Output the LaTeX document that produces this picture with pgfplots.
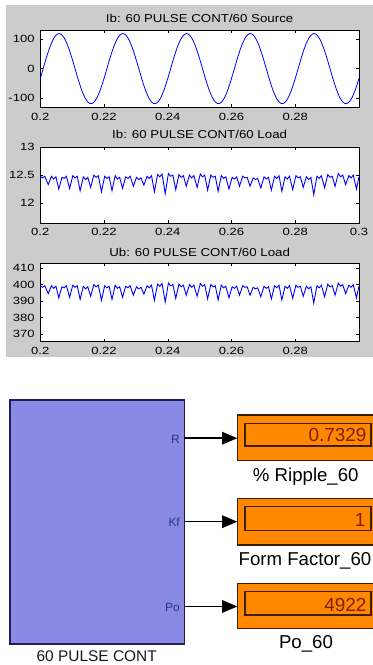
\documentclass[border=0pt]{standalone}
\usepackage{pgfplots}
\pgfplotsset{compat=1.18}
\usepackage{pgfplotstable}
\usepackage{fontspec}
\setmainfont{Liberation Sans}
\newfontfamily\tickfont{Liberation Sans}[FakeStretch=1.25]
\newfontfamily\titlefont{Liberation Sans}[FakeStretch=1.16]
\definecolor{figgray}{RGB}{204,204,204}
\definecolor{blockblue}{RGB}{138,138,230}
\definecolor{navy}{RGB}{30,30,90}
\definecolor{portblue}{RGB}{40,50,130}
\definecolor{dorange}{RGB}{255,136,0}
\definecolor{dbrown}{RGB}{60,30,0}
\definecolor{valred}{RGB}{130,30,0}

\pgfplotstableread{
t y
0.2000 -33
0.2009 0
0.2019 36.5
0.2029 69.4
0.2039 95.5
0.2049 112.2
0.2059 118
0.2069 112.2
0.2079 95.5
0.2089 69.4
0.2099 36.5
0.2109 0
0.2119 -36.5
0.2129 -69.4
0.2139 -95.5
0.2149 -112.2
0.2159 -118
0.2169 -112.2
0.2179 -95.5
0.2189 -69.4
0.2199 -36.5
0.2209 0
0.2219 36.5
0.2229 69.4
0.2239 95.5
0.2249 112.2
0.2259 118
0.2269 112.2
0.2279 95.5
0.2289 69.4
0.2299 36.5
0.2309 0
0.2319 -36.5
0.2329 -69.4
0.2339 -95.5
0.2349 -112.2
0.2359 -118
0.2369 -112.2
0.2379 -95.5
0.2389 -69.4
0.2399 -36.5
0.2409 0
0.2419 36.5
0.2429 69.4
0.2439 95.5
0.2449 112.2
0.2459 118
0.2469 112.2
0.2479 95.5
0.2489 69.4
0.2499 36.5
0.2509 0
0.2519 -36.5
0.2529 -69.4
0.2539 -95.5
0.2549 -112.2
0.2559 -118
0.2569 -112.2
0.2579 -95.5
0.2589 -69.4
0.2599 -36.5
0.2609 0
0.2619 36.5
0.2629 69.4
0.2639 95.5
0.2649 112.2
0.2659 118
0.2669 112.2
0.2679 95.5
0.2689 69.4
0.2699 36.5
0.2709 0
0.2719 -36.5
0.2729 -69.4
0.2739 -95.5
0.2749 -112.2
0.2759 -118
0.2769 -112.2
0.2779 -95.5
0.2789 -69.4
0.2799 -36.5
0.2809 0
0.2819 36.5
0.2829 69.4
0.2839 95.5
0.2849 112.2
0.2859 118
0.2869 112.2
0.2879 95.5
0.2889 69.4
0.2899 36.5
0.2909 0
0.2919 -36.5
0.2929 -69.4
0.2939 -95.5
0.2949 -112.2
0.2959 -118
0.2969 -112.2
0.2979 -95.5
0.2989 -69.4
0.2999 -36.5
0.3000 -33
}\sinetab

\pgfplotstableread{
t I U
0.2000 12.48 399.36
0.2007 12.45 398.40
0.2014 12.48 399.36
0.2025 12.33 394.56
0.2035 12.48 399.36
0.2042 12.43 397.76
0.2049 12.47 399.04
0.2058 12.25 392.00
0.2068 12.46 398.72
0.2075 12.44 398.08
0.2082 12.48 399.36
0.2092 12.26 392.32
0.2102 12.49 399.68
0.2109 12.45 398.40
0.2116 12.48 399.36
0.2125 12.22 391.04
0.2135 12.47 399.04
0.2142 12.42 397.44
0.2149 12.46 398.72
0.2158 12.28 392.96
0.2168 12.50 400.00
0.2175 12.46 398.72
0.2182 12.49 399.68
0.2192 12.20 390.40
0.2202 12.48 399.36
0.2209 12.44 398.08
0.2216 12.47 399.04
0.2225 12.22 391.04
0.2235 12.49 399.68
0.2242 12.43 397.76
0.2249 12.46 398.72
0.2258 12.26 392.32
0.2268 12.47 399.04
0.2275 12.44 398.08
0.2282 12.48 399.36
0.2292 12.30 393.60
0.2302 12.46 398.72
0.2309 12.42 397.44
0.2316 12.45 398.40
0.2325 12.32 394.24
0.2335 12.48 399.36
0.2342 12.44 398.08
0.2349 12.49 399.68
0.2358 12.20 390.40
0.2368 12.51 400.32
0.2375 12.47 399.04
0.2382 12.52 400.64
0.2392 12.17 389.44
0.2402 12.53 400.96
0.2409 12.48 399.36
0.2416 12.50 400.00
0.2425 12.24 391.68
0.2435 12.51 400.32
0.2442 12.46 398.72
0.2449 12.49 399.68
0.2458 12.30 393.60
0.2468 12.50 400.00
0.2475 12.45 398.40
0.2482 12.49 399.68
0.2492 12.28 392.96
0.2502 12.52 400.64
0.2509 12.47 399.04
0.2516 12.50 400.00
0.2525 12.23 391.36
0.2535 12.50 400.00
0.2542 12.46 398.72
0.2549 12.48 399.36
0.2558 12.21 390.72
0.2568 12.49 399.68
0.2575 12.44 398.08
0.2582 12.47 399.04
0.2592 12.25 392.00
0.2602 12.46 398.72
0.2609 12.43 397.76
0.2616 12.47 399.04
0.2625 12.30 393.60
0.2635 12.48 399.36
0.2642 12.45 398.40
0.2649 12.46 398.72
0.2658 12.30 393.60
0.2668 12.45 398.40
0.2675 12.42 397.44
0.2682 12.44 398.08
0.2692 12.27 392.64
0.2702 12.47 399.04
0.2709 12.43 397.76
0.2716 12.46 398.72
0.2725 12.23 391.36
0.2735 12.48 399.36
0.2742 12.44 398.08
0.2749 12.49 399.68
0.2758 12.21 390.72
0.2768 12.47 399.04
0.2775 12.43 397.76
0.2782 12.48 399.36
0.2792 12.24 391.68
0.2802 12.49 399.68
0.2809 12.45 398.40
0.2816 12.47 399.04
0.2825 12.28 392.96
0.2835 12.47 399.04
0.2842 12.42 397.44
0.2849 12.46 398.72
0.2858 12.15 388.80
0.2868 12.48 399.36
0.2875 12.44 398.08
0.2882 12.49 399.68
0.2892 12.27 392.64
0.2902 12.51 400.32
0.2909 12.46 398.72
0.2916 12.48 399.36
0.2925 12.30 393.60
0.2935 12.53 400.96
0.2942 12.47 399.04
0.2949 12.50 400.00
0.2958 12.33 394.56
0.2968 12.49 399.68
0.2975 12.45 398.40
0.2982 12.50 400.00
0.2992 12.25 392.00
0.3000 12.47 399.04
}\loadtab

\pgfplotsset{scopestyle/.style={
  scale only axis, width=318.7bp, anchor=south west,
  xmin=0.2, xmax=0.3,
  axis background/.style={fill=white},
  axis line style={line width=0.6bp},
  tick align=inside, major tick length=3bp,
  every tick/.style={black, line width=0.5bp},
  /pgf/number format/assume math mode=true,
  scaled x ticks=false, scaled y ticks=false,
  tick label style={font=\tickfont\fontsize{10.5}{12}\selectfont, text=black},
  xticklabel style={inner sep=0pt, yshift=-5.4bp},
  yticklabel style={inner sep=0pt, xshift=-5.5bp},
  every axis title/.style={at={(0.5,1)}, anchor=base, inner sep=0pt,
    font=\titlefont\fontsize{11.5}{13}\selectfont, text=black},
}}

\begin{document}
\begin{tikzpicture}
\path[use as bounding box] (0bp,0bp) rectangle (373bp,665bp);
\fill[figgray] (6bp,308bp) rectangle (373bp,660bp);

\begin{axis}[scopestyle, at={(40.3bp,557.7bp)}, height=77.3bp,
  ymin=-130, ymax=130, ytick={-100,0,100}, yticklabels={-100,0,100},
  xtick={0.2,0.22,0.24,0.26,0.28}, xticklabels={0.2,0.22,0.24,0.26,0.28},
  title={Ib: 60 PULSE CONT/60 Source}, title style={yshift=7.3bp}]
\addplot[blue, line width=0.8bp, smooth] table[x=t, y=y] {\sinetab};
\end{axis}

\begin{axis}[scopestyle, at={(40.3bp,442bp)}, height=75.7bp,
  ymin=11.64, ymax=13, ytick={12,12.5,13}, yticklabels={12,12.5,13},
  xtick={0.2,0.22,0.24,0.26,0.28,0.3}, xticklabels={0.2,0.22,0.24,0.26,0.28,0.3},
  title={Ib: 60 PULSE CONT/60 Load}, title style={yshift=8.5bp}]
\addplot[blue, line width=0.9bp] table[x=t, y=I] {\loadtab};
\end{axis}

\begin{axis}[scopestyle, at={(40.3bp,323.3bp)}, height=78.4bp,
  ymin=365.3, ymax=413, ytick={370,380,390,400,410}, yticklabels={370,380,390,400,410},
  xtick={0.2,0.22,0.24,0.26,0.28}, xticklabels={0.2,0.22,0.24,0.26,0.28},
  title={Ub: 60 PULSE CONT/60 Load}, title style={yshift=7bp}]
\addplot[blue, line width=0.9bp] table[x=t, y=U] {\loadtab};
\end{axis}

\begin{scope}[x=1bp, y=1bp]
  % subsystem block
  \filldraw[fill=blockblue, draw=navy, line width=1.4bp] (10,21) rectangle (184.3,265);
  \node[anchor=base, inner sep=0pt, font=\fontsize{15.5}{17}\selectfont, text=black!90] at (96.7,3.3) {60 PULSE CONT};
  \node[anchor=base east, inner sep=0pt, font=\fontsize{12}{14}\selectfont, text=portblue] at (180,221.5) {R};
  \node[anchor=base east, inner sep=0pt, font=\fontsize{12}{14}\selectfont, text=portblue] at (180,138.5) {Kf};
  \node[anchor=base east, inner sep=0pt, font=\fontsize{12}{14}\selectfont, text=portblue] at (180,53.3) {Po};
  % arrows
  \foreach \yy in {226.8,143.3,58.5}{
    \draw[line width=1.4bp] (184.3,\yy) -- (224,\yy);
    \fill (222,\yy+6.5) -- (237.3,\yy) -- (222,\yy-6.5) -- cycle;
  }
  % displays
  \filldraw[fill=dorange, draw=dbrown, line width=1.1bp] (237.3,204.3) rectangle (380,250);
  \draw[dbrown, line width=1.1bp] (245,219) rectangle (371,241.7);
  \node[anchor=base east, inner sep=0pt, text=valred, font=\fontsize{19}{21}\selectfont] at (366.7,223.3) {0.7329};
  \node[anchor=base, inner sep=0pt, font=\fontsize{18.7}{21}\selectfont, text=black] at (305.8,183.3) {\% Ripple\_60};

  \filldraw[fill=dorange, draw=dbrown, line width=1.1bp] (237.3,120) rectangle (380,166.7);
  \draw[dbrown, line width=1.1bp] (245,134.3) rectangle (371,158.3);
  \node[anchor=base east, inner sep=0pt, text=valred, font=\fontsize{19}{21}\selectfont] at (365.5,138.3) {1};
  \node[anchor=base, inner sep=0pt, font=\fontsize{18.7}{21}\selectfont, text=black] at (305,100) {Form Factor\_60};

  \filldraw[fill=dorange, draw=dbrown, line width=1.1bp] (237.3,36.7) rectangle (380,81.7);
  \draw[dbrown, line width=1.1bp] (245,50) rectangle (371,73.3);
  \node[anchor=base east, inner sep=0pt, text=valred, font=\fontsize{19}{21}\selectfont] at (366.7,53.3) {4922};
  \node[anchor=base, inner sep=0pt, font=\fontsize{18.7}{21}\selectfont, text=black] at (306,16.7) {Po\_60};
\end{scope}
\end{tikzpicture}
\end{document}
